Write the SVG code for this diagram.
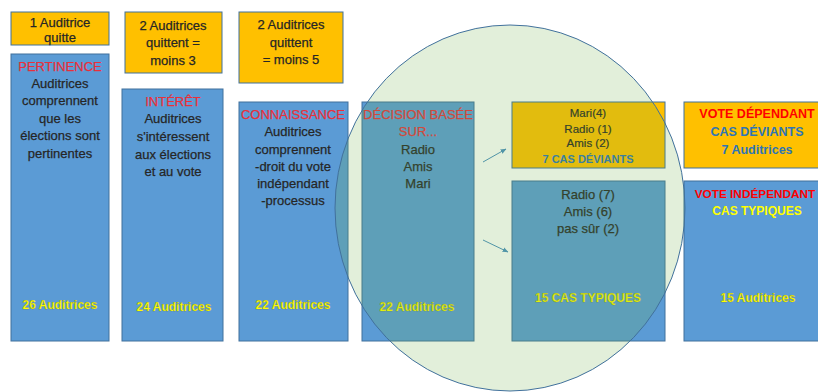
<svg xmlns="http://www.w3.org/2000/svg" width="818" height="392" viewBox="0 0 818 392">
<defs>
<style>
.blue{fill:#5B9BD5;stroke:#41719C;stroke-width:1}
.org{fill:#FFC000;stroke:#41719C;stroke-width:1}
text{font-family:"Liberation Sans",Arial,sans-serif;text-anchor:middle}
.t{font-size:13px;fill:#262626;stroke:#262626;stroke-width:0.25}
.s{font-size:11.5px;fill:#262626;stroke:#262626;stroke-width:0.2}
.red{font-size:13px;fill:#E8303A;stroke:#E8303A;stroke-width:0.25}
.rb{font-size:12.5px;font-weight:bold;fill:#FF0000}
.bb{font-size:12.5px;font-weight:bold;fill:#2E75B6}
.yb{font-size:12px;font-weight:bold;fill:#FFFF00}
.cnt{font-size:12px;font-weight:bold;fill:#FFFF00;stroke:#7a7a30;stroke-width:0.25}
.conn{stroke:#4A8FC0;stroke-width:1;fill:none;marker-end:url(#ah)}
</style>
<marker id="ah" viewBox="0 0 10 10" refX="9" refY="5" markerWidth="6" markerHeight="6" orient="auto">
<path d="M0,1 L10,5 L0,9 z" fill="#4A8FC0"/>
</marker>
</defs>
<rect width="818" height="392" fill="#FFFFFF"/>

<g id="quit1"><rect class="org" x="11" y="12" width="98" height="33"/>
<text class="t" x="60" y="27">1 Auditrice</text><text class="t" x="60" y="42">quitte</text></g>
<g id="quit2"><rect class="org" x="125" y="12" width="97" height="61"/>
<text class="t" x="173" y="30">2 Auditrices</text><text class="t" x="173" y="47">quittent =</text><text class="t" x="173" y="65">moins 3</text></g>
<g id="quit3"><rect class="org" x="239" y="12" width="104" height="71"/>
<text class="t" x="291" y="29">2 Auditrices</text><text class="t" x="291" y="47">quittent</text><text class="t" x="291" y="64">= moins 5</text></g>

<g id="pertinence"><rect class="blue" x="11" y="54" width="98" height="287"/>
<text class="red" x="60" y="71">PERTINENCE</text>
<text class="t" x="60" y="88">Auditrices</text><text class="t" x="60" y="105">comprennent</text><text class="t" x="60" y="123">que les</text><text class="t" x="60" y="140">élections sont</text><text class="t" x="60" y="158">pertinentes</text>
<text class="cnt" x="60" y="309">26 Auditrices</text></g>

<g id="interet"><rect class="blue" x="122" y="89" width="101" height="252"/>
<text class="red" x="173" y="106">INTÉRÊT</text>
<text class="t" x="173" y="123">Auditrices</text><text class="t" x="173" y="141">s'intéressent</text><text class="t" x="173" y="159">aux élections</text><text class="t" x="173" y="176">et au vote</text>
<text class="cnt" x="174" y="311">24 Auditrices</text></g>

<g id="connaissance"><rect class="blue" x="239" y="102" width="109" height="239"/>
<text class="red" x="293" y="119">CONNAISSANCE</text>
<text class="t" x="293" y="136">Auditrices</text><text class="t" x="293" y="154">comprennent</text><text class="t" x="293" y="171">-droit du vote</text><text class="t" x="293" y="188">indépendant</text><text class="t" x="293" y="205">-processus</text>
<text class="cnt" x="293" y="309">22 Auditrices</text></g>

<g id="decision"><rect class="blue" x="362" y="102" width="112" height="239"/>
<text class="red" x="418" y="119">DÉCISION BASÉE</text><text class="red" x="418" y="136">SUR...</text>
<text class="t" x="418" y="154">Radio</text><text class="t" x="418" y="171">Amis</text><text class="t" x="418" y="188">Mari</text>
<text class="cnt" x="417" y="311">22 Auditrices</text></g>

<g id="deviants"><rect class="org" x="512" y="102" width="153" height="66"/>
<text class="s" x="588" y="117">Mari(4)</text><text class="s" x="588" y="133">Radio (1)</text><text class="s" x="588" y="147">Amis (2)</text>
<text class="bb" x="588" y="163" style="font-size:11px">7 CAS DÉVIANTS</text></g>

<g id="typiques"><rect class="blue" x="512" y="181" width="153" height="160"/>
<text class="t" x="588" y="199">Radio (7)</text><text class="t" x="588" y="216">Amis (6)</text><text class="t" x="588" y="233">pas sûr (2)</text>
<text class="cnt" x="588" y="302">15 CAS TYPIQUES</text></g>

<g id="vote-dependant"><rect class="org" x="684" y="102" width="146" height="66"/>
<text class="rb" x="757" y="118">VOTE DÉPENDANT</text><text class="bb" x="757" y="136">CAS DÉVIANTS</text><text class="bb" x="757" y="154">7 Auditrices</text></g>

<g id="vote-independant"><rect class="blue" x="684" y="181" width="146" height="160"/>
<text class="rb" x="755" y="198" style="font-size:11.8px">VOTE INDÉPENDANT</text><text class="yb" x="757" y="215">CAS TYPIQUES</text>
<text class="cnt" x="758" y="302">15 Auditrices</text></g>

<g id="connectors">
<line class="conn" x1="483" y1="162" x2="506" y2="149"/>
<line class="conn" x1="483" y1="240" x2="508" y2="252"/>
</g>

<g id="ellipse">
<ellipse cx="510" cy="208" rx="175" ry="183" fill="#70AD47" fill-opacity="0.2" stroke="#41719C" stroke-width="1"/>
</g>
</svg>
